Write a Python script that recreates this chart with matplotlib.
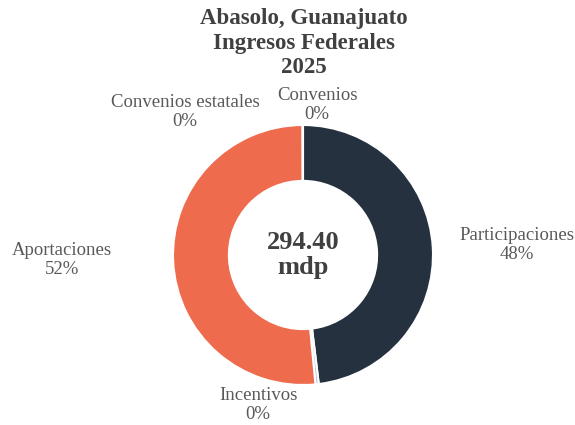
import numpy as np
import matplotlib.pyplot as plt

plt.rcParams['font.family'] = ['Liberation Serif', 'DejaVu Serif']

# Ingresos federales (mdp), clockwise from 12 o'clock
categorias = ['Participaciones', 'Incentivos', 'Aportaciones', 'Convenios estatales', 'Convenios']
valores = [141.50, 1.20, 151.60, 0.05, 0.05]
porcentajes = ['48%', '0%', '52%', '0%', '0%']
colores = ['#263140', '#a9c4dc', '#ee6c4d', '#f4b183', '#bfbfbf']
total = 294.40

fig = plt.figure(figsize=(5.75, 4.25), dpi=100)
ax = fig.add_axes([0, 0, 1, 1])

ax.pie(valores, colors=colores, startangle=90, counterclock=False, radius=1.0,
       wedgeprops=dict(width=0.43, edgecolor='white', linewidth=1.5))

ax.set_aspect('auto')
ax.set_xlim(-303 / 130, 272 / 130)
ax.set_ylim(-170 / 130, 255 / 130)
ax.axis('off')

# label positions (data units, radius = 1)
pos = [(1.646, 0.077), (-0.346, -1.154), (-1.854, -0.038), (-0.908, 1.10), (0.108, 1.154)]
for (x, y), cat, p in zip(pos, categorias, porcentajes):
    ax.text(x, y, cat + '\n' + p, ha='center', va='center', fontsize=13.5,
            color='#595959', linespacing=1.1)

ax.text(0, 0, f'{total:.2f}\nmdp', ha='center', va='center', fontsize=19,
        fontweight='bold', color='#404040', linespacing=1.1)

fig.text(304 / 575, 1 - 43 / 425, 'Abasolo, Guanajuato\nIngresos Federales\n2025',
         ha='center', va='center', fontsize=16.5, fontweight='bold',
         color='#404040', linespacing=1.2)

fig.savefig('out.png', dpi=100)
